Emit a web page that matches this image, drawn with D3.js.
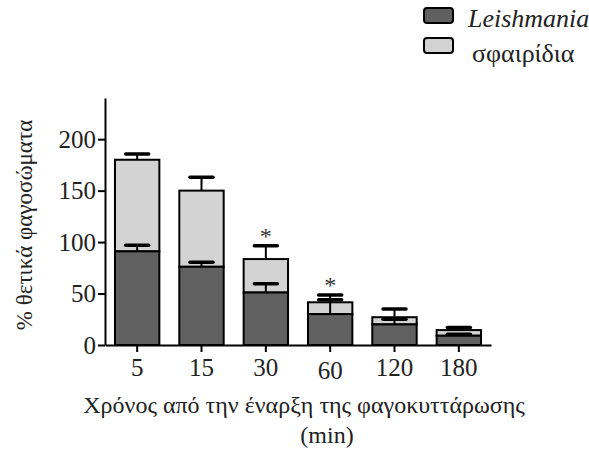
<!DOCTYPE html>
<html lang="el">
<head>
<meta charset="UTF-8">
<title>Φαγοκυττάρωση</title>
<script src="https://d3js.org/d3.v7.min.js"></script>
<style>
    body { margin: 0; background: #fff; }
    svg text { font-family: "Liberation Serif", serif; }
    .axis path, .axis line { stroke: #000; stroke-width: 2; }
    .axis text { font-size: 25px; fill: #222; }
</style>
</head>
<body>
<svg width="589" height="454"></svg>
<script>
    // values
    const times = ["5", "15", "30", "60", "120", "180"];
    const leishmania = [91, 76, 51, 30, 20, 9];
    const leishmaniaErr = [6, 4.5, 8.5, 14, 5, 1.5];
    const spheres = [89, 74, 32.5, 11.5, 7, 5.5];
    const spheresErr = [5.5, 13, 13, 7, 8, 2.5];
    const significant = [false, false, true, true, false, false];
    const yTicks = [0, 50, 100, 150, 200];

    const darkFill = "#606060", lightFill = "#d3d3d3";
    const serif = "Liberation Serif";
    const svg = d3.select("svg");

    const x = d3.scaleBand().domain(times).range([105, 491])
        .paddingInner(0.31).paddingOuter(0.155);
    const y = d3.scaleLinear().domain([0, 240]).range([345, 98]);

    const rows = times.map((t, i) => ({
        t: t,
        dark: leishmania[i],
        darkErr: leishmaniaErr[i],
        total: leishmania[i] + spheres[i],
        totalErr: spheresErr[i],
        star: significant[i]
    }));

    // bars
    const g = svg.append("g");
    g.selectAll("rect.light").data(rows).enter().append("rect")
        .attr("class", "light")
        .attr("x", d => x(d.t))
        .attr("y", d => y(d.total))
        .attr("width", x.bandwidth())
        .attr("height", d => y(d.dark) - y(d.total))
        .attr("fill", lightFill).attr("stroke", "#000").attr("stroke-width", 2);
    g.selectAll("rect.dark").data(rows).enter().append("rect")
        .attr("class", "dark")
        .attr("x", d => x(d.t))
        .attr("y", d => y(d.dark))
        .attr("width", x.bandwidth())
        .attr("height", d => y(0) - y(d.dark))
        .attr("fill", darkFill).attr("stroke", "#000").attr("stroke-width", 2);

    // error bars (upper only)
    const capW = 23;
    function errBars(top, err) {
        const e = g.append("g");
        e.selectAll("line.v").data(rows).enter().append("line")
            .attr("x1", d => x(d.t) + x.bandwidth() / 2)
            .attr("x2", d => x(d.t) + x.bandwidth() / 2)
            .attr("y1", d => y(top(d)))
            .attr("y2", d => y(top(d) + err(d)))
            .attr("stroke", "#000").attr("stroke-width", 2);
        e.selectAll("line.c").data(rows).enter().append("line")
            .attr("x1", d => x(d.t) + x.bandwidth() / 2 - capW / 2)
            .attr("x2", d => x(d.t) + x.bandwidth() / 2 + capW / 2)
            .attr("y1", d => y(top(d) + err(d)))
            .attr("y2", d => y(top(d) + err(d)))
            .attr("stroke", "#000").attr("stroke-width", 3.5)
            .attr("stroke-linecap", "round");
    }
    errBars(d => d.total, d => d.totalErr);
    errBars(d => d.dark, d => d.darkErr);

    // significance marks
    g.selectAll("text.star").data(rows.filter(d => d.star)).enter().append("text")
        .attr("x", d => x(d.t) + x.bandwidth() / 2)
        .attr("y", d => y(d.total + d.totalErr) - 2)
        .attr("text-anchor", "middle")
        .attr("font-family", serif)
        .attr("font-size", 24).attr("fill", "#333")
        .text("*");

    // axes
    svg.append("g").attr("class", "axis")
        .attr("transform", "translate(105,0)")
        .call(d3.axisLeft(y).tickValues(yTicks).tickSize(7).tickPadding(2).tickSizeOuter(0));
    const xAxis = svg.append("g").attr("class", "axis")
        .attr("transform", "translate(0,345)")
        .call(d3.axisBottom(x).tickSize(7).tickPadding(2).tickSizeOuter(0));
    xAxis.selectAll(".tick text").attr("dy", d => d === "60" ? "1.0em" : "0.86em");
    svg.selectAll(".axis").attr("font-family", serif);
    svg.selectAll(".axis .domain").attr("stroke-width", 2.5);

    // axis titles
    svg.append("text")
        .attr("transform", "translate(32,225) rotate(-90)")
        .attr("text-anchor", "middle")
        .attr("font-family", serif)
        .attr("font-size", 23).attr("fill", "#222")
        .text("% θετικά φαγοσώματα");
    svg.append("text")
        .attr("x", 304).attr("y", 413)
        .attr("text-anchor", "middle")
        .attr("font-family", serif)
        .attr("font-size", 24).attr("fill", "#222")
        .text("Χρόνος από την έναρξη της φαγοκυττάρωσης");
    svg.append("text")
        .attr("x", 327).attr("y", 443)
        .attr("text-anchor", "middle")
        .attr("font-family", serif)
        .attr("font-size", 24).attr("fill", "#222")
        .text("(min)");

    // legend
    const legendItems = [
        { label: "Leishmania", fill: darkFill, italic: true },
        { label: "σφαιρίδια", fill: lightFill, italic: false }
    ];
    const lg = svg.append("g").attr("transform", "translate(424,8)");
    const li = lg.selectAll("g").data(legendItems).enter().append("g")
        .attr("transform", (d, i) => `translate(0,${i * 30})`);
    li.append("rect")
        .attr("width", 29).attr("height", 15).attr("rx", 3)
        .attr("fill", d => d.fill).attr("stroke", "#000").attr("stroke-width", 2);
    li.append("text")
        .attr("x", (d, i) => i === 0 ? 44 : 48)
        .attr("y", (d, i) => i === 0 ? 19 : 24)
        .attr("font-family", serif)
        .attr("font-size", 26).attr("fill", "#222")
        .attr("font-style", d => d.italic ? "italic" : "normal")
        .text(d => d.label);
</script>
</body>
</html>
